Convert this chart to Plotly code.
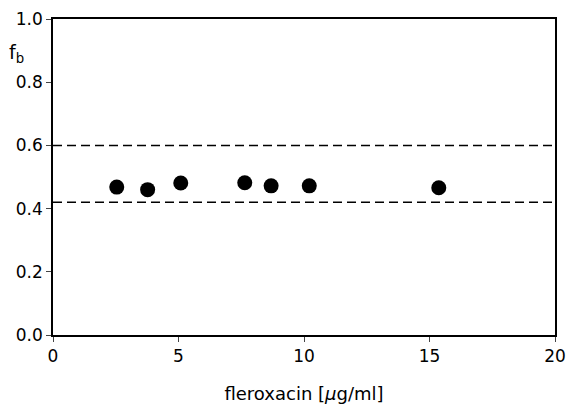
import plotly.graph_objects as go

# data
conc = [2.54, 3.77, 5.09, 7.64, 8.69, 10.21, 15.37]
fb = [0.468, 0.460, 0.481, 0.482, 0.472, 0.472, 0.466]
band_x = [0, 20]
upper_limit = [0.60, 0.60]
lower_limit = [0.42, 0.42]
x_ticks = [0, 5, 10, 15, 20]
y_ticks = [0.0, 0.2, 0.4, 0.6, 0.8, 1.0]
y_tick_labels = ["0.0", "0.2", "0.4", "0.6", "0.8", "1.0"]

font = "DejaVu Sans, Liberation Sans, sans-serif"

fig = go.Figure()
for lim in (upper_limit, lower_limit):
    fig.add_trace(go.Scatter(x=band_x, y=lim, mode="lines",
                             line=dict(color="black", width=1.5, dash="9px,5px"),
                             showlegend=False, hoverinfo="skip"))
fig.add_trace(go.Scatter(x=conc, y=fb, mode="markers",
                         marker=dict(color="black", size=15),
                         showlegend=False))

fig.update_layout(
    width=566, height=405,
    margin=dict(l=53, r=11, t=19, b=70, autoexpand=False),
    paper_bgcolor="white", plot_bgcolor="white",
    font=dict(family=font, size=17, color="black"),
    xaxis=dict(range=[0, 20], tickvals=x_ticks, ticks="outside", ticklen=5,
               tickwidth=1.2, showline=True, linecolor="black", linewidth=1.5,
               mirror=True, showgrid=False, zeroline=False, automargin=False,
               title=dict(text="fleroxacin [<i>μ</i>g/ml]", standoff=22,
                          font=dict(size=18))),
    yaxis=dict(range=[0, 1.0], tickvals=y_ticks, ticktext=y_tick_labels,
               ticks="outside", ticklen=5, tickwidth=1.2, showline=True,
               linecolor="black", linewidth=1.5, mirror=True, showgrid=False,
               zeroline=False, automargin=False),
    annotations=[dict(text="f<sub>b</sub>", xref="paper", yref="paper",
                      x=-0.072, y=0.89, xanchor="center", yanchor="middle",
                      showarrow=False, font=dict(size=19))],
)

# remove the default page margin so the figure fills the window exactly
fig.write_html("out.html",
               config={"displayModeBar": False},
               post_script="document.body.style.margin='0';"
                           "document.body.style.overflow='hidden';")
